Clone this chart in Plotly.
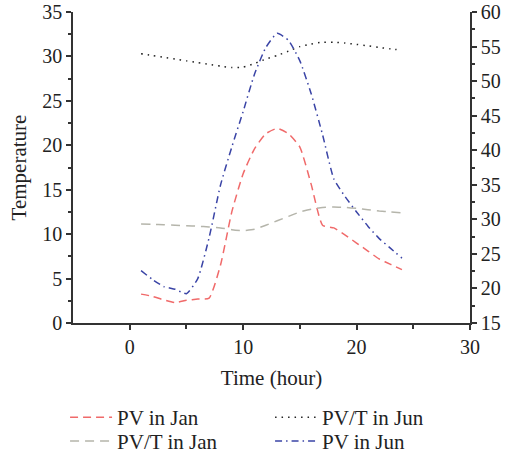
import plotly.graph_objects as go

hours = list(range(1, 25))
pv_jan = [3.25, 3.0, 2.6, 2.3, 2.55, 2.7, 2.8, 6.5, 12.5, 16.8, 19.6, 21.3,
          21.9, 21.3, 19.8, 15.6, 11.0, 10.7, 9.9, 9.0, 8.1, 7.2, 6.6, 6.0]
pvt_jun = [30.3, 30.1, 29.9, 29.7, 29.5, 29.3, 29.1, 28.9, 28.75, 28.8, 29.2, 29.7,
           30.1, 30.6, 31.1, 31.4, 31.6, 31.6, 31.5, 31.35, 31.2, 31.0, 30.85, 30.7]
pvt_jan = [11.15, 11.1, 11.05, 11.0, 10.95, 10.9, 10.8, 10.7, 10.5, 10.4, 10.55, 11.0,
           11.5, 12.0, 12.5, 12.8, 13.0, 13.05, 13.0, 12.9, 12.75, 12.6, 12.5, 12.4]
pv_jun = [5.9, 4.9, 4.1, 3.8, 3.3, 5.0, 9.6, 15.5, 19.8, 23.8, 28.0, 31.0,
          32.6, 31.8, 29.5, 25.8, 21.2, 16.2, 14.2, 12.5, 10.9, 9.5, 8.4, 7.3]

names = ["PV in Jan", "PV/T in Jun", "PV/T in Jan", "PV in Jun"]
series = [pv_jan, pvt_jun, pvt_jan, pv_jun]
colors = ["#f06a6a", "#222222", "#b5b5ab", "#3a44a6"]
dashes = ["8px,5px", "1.5px,5px", "9px,6px", "7px,4px,1.5px,4px"]
legend_rows = ["legend", "legend", "legend2", "legend2"]

FONT = "Liberation Serif"
AX = "#333333"

fig = go.Figure()
for n, s, c, d, lg in zip(names, series, colors, dashes, legend_rows):
    fig.add_trace(go.Scatter(x=hours, y=s, name=n, mode="lines", legend=lg,
                             line=dict(color=c, width=1.5, dash=d, shape="spline", smoothing=0.5)))
# secondary axis holder (no marks)
fig.add_trace(go.Scatter(x=[None], y=[None], yaxis="y2", showlegend=False, hoverinfo="skip"))

axis_common = dict(showgrid=False, zeroline=False, showline=True, linecolor=AX, linewidth=1.5,
                   ticks="outside", ticklen=5, tickwidth=1.5, tickcolor=AX,
                   tickfont=dict(family=FONT, size=20, color="#222"))

leg_common = dict(orientation="h", x=-0.02, xanchor="left", yanchor="top",
                  entrywidth=148, entrywidthmode="pixels", itemwidth=42,
                  font=dict(family=FONT, size=21, color="#222"), bgcolor="rgba(0,0,0,0)")

fig.update_layout(
    width=505, height=459,
    margin=dict(l=73, r=35, t=12, b=136, autoexpand=False),
    plot_bgcolor="white", paper_bgcolor="white",
    font=dict(family=FONT, size=20, color="#222"),
    xaxis=dict(range=[-5, 30], tickvals=[0, 10, 20, 30],
               minor=dict(tickvals=[5, 15, 25], ticks="outside", ticklen=4, tickwidth=1.5, tickcolor=AX),
               title=dict(text="Time (hour)", font=dict(family=FONT, size=21), standoff=14),
               **axis_common),
    yaxis=dict(range=[0, 35], dtick=5,
               minor=dict(dtick=2.5, ticks="outside", ticklen=3, tickwidth=1.5, tickcolor=AX),
               title=dict(text="Temperature", font=dict(family=FONT, size=21), standoff=10),
               **axis_common),
    yaxis2=dict(range=[15, 60], dtick=5, overlaying="y", side="right",
                minor=dict(dtick=2.5, ticks="outside", ticklen=3, tickwidth=1.5, tickcolor=AX),
                **axis_common),
    legend=dict(y=-0.238, **leg_common),
    legend2=dict(y=-0.315, **leg_common),
    showlegend=True,
)

fig.write_html("out.html")
